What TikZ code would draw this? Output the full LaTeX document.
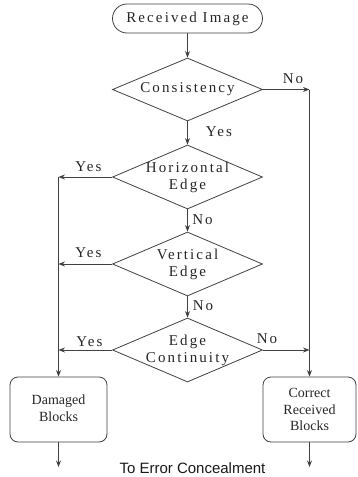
\documentclass[tikz,border=0pt]{standalone}
\usepackage{fontspec}
\setmainfont{Liberation Serif}
\newfontfamily\spacedfont[LetterSpace=14]{Liberation Serif}
\newfontfamily\arialfont{Liberation Sans}
\usetikzlibrary{shapes.geometric,arrows.meta}
\begin{document}
\begin{tikzpicture}[x=1pt,y=-1pt,
  ln/.style={draw=black!75,line width=0.8pt},
  arr/.style={ln,-{Stealth[length=6.5pt,width=5pt]}},
  dia/.style={ln,diamond,minimum width=150pt,minimum height=63pt,inner sep=0pt},
  dtext/.style={font=\spacedfont\fontsize{15}{17}\selectfont,text=black!85,align=center,inner sep=0pt},
  lab/.style={font=\spacedfont\fontsize{15}{17}\selectfont,text=black!85,inner sep=0pt},
  box/.style={ln,rounded corners=8pt,minimum height=65pt,inner sep=0pt,align=center,
    font=\fontsize{14}{16.5}\selectfont,text=black!85}
]
\useasboundingbox (0,0) rectangle (357,477);
% start
\node[ln,rounded corners=14.5pt,minimum width=150pt,minimum height=29pt,inner sep=0pt,
  font=\spacedfont\fontsize{15}{17}\selectfont,text=black!85] (start) at (187.5,18.5) {Received Image};
% diamonds
\node[dia,label={[dtext]center:Consistency}] (cons) at (187.5,89.5) {};
\node[dia,minimum height=64pt,label={[dtext]center:{Horizontal\\Edge}}] (hor) at (187.5,177) {};
\node[dia,minimum height=64pt,label={[dtext]center:{Vertical\\Edge}}] (ver) at (187.5,264) {};
\node[dia,minimum height=64pt,label={[dtext]center:{Edge\\Continuity}}] (cont) at (187.5,350) {};
% boxes
\node[box,minimum width=97pt,label={[font=\fontsize{14}{16.5}\selectfont,text=black!85,align=center,inner sep=0pt]center:{\raisebox{3pt}{\shortstack{Damaged\\[1pt]Blocks}}}}] (dam) at (58.5,409.5) {};
\node[box,minimum width=93pt] (cor) at (309.5,409.5) {Correct\\Received\\Blocks};
% helper coordinates
\coordinate (lh) at (58.5,177);
\coordinate (lv) at (58.5,264);
\coordinate (lc) at (58.5,350);
\coordinate (rc) at (309.5,89.5);
\coordinate (re) at (309.5,350);
\coordinate (dend) at (58.5,467);
\coordinate (cend) at (309.5,467);
% arrows
\draw[arr] (start) -- (cons.north);
\draw[arr] (cons.south) -- (hor.north);
\draw[arr] (hor.south) -- (ver.north);
\draw[arr] (ver.south) -- (cont.north);
\draw[arr] (hor.west) -- (lh);
\draw[arr] (ver.west) -- (lv);
\draw[arr] (cont.west) -- (lc);
\draw[arr] (lh) -- (dam.north);
\draw[arr] (cons.east) -- (rc);
\draw[arr] (rc) -- (cor.north);
\draw[arr] (cont.east) -- (re);
\draw[arr] (dam.south) -- (dend);
\draw[arr] (cor.south) -- (cend);
% labels
\node[lab] (l1) at (293,79) {No};
\node[lab] (l2) at (219,132) {Yes};
\node[lab] (l3) at (88.5,167) {Yes};
\node[lab] (l4) at (202.5,220) {No};
\node[lab] (l5) at (88.5,252.5) {Yes};
\node[lab] (l6) at (203,306) {No};
\node[lab] (l7) at (89.5,342) {Yes};
\node[lab] (l8) at (267,339) {No};
\node[font=\arialfont\fontsize{15}{17}\selectfont,inner sep=0pt,text=black!90] (txt) at (192.5,468.5) {To Error Concealment};
\end{tikzpicture}
\end{document}
